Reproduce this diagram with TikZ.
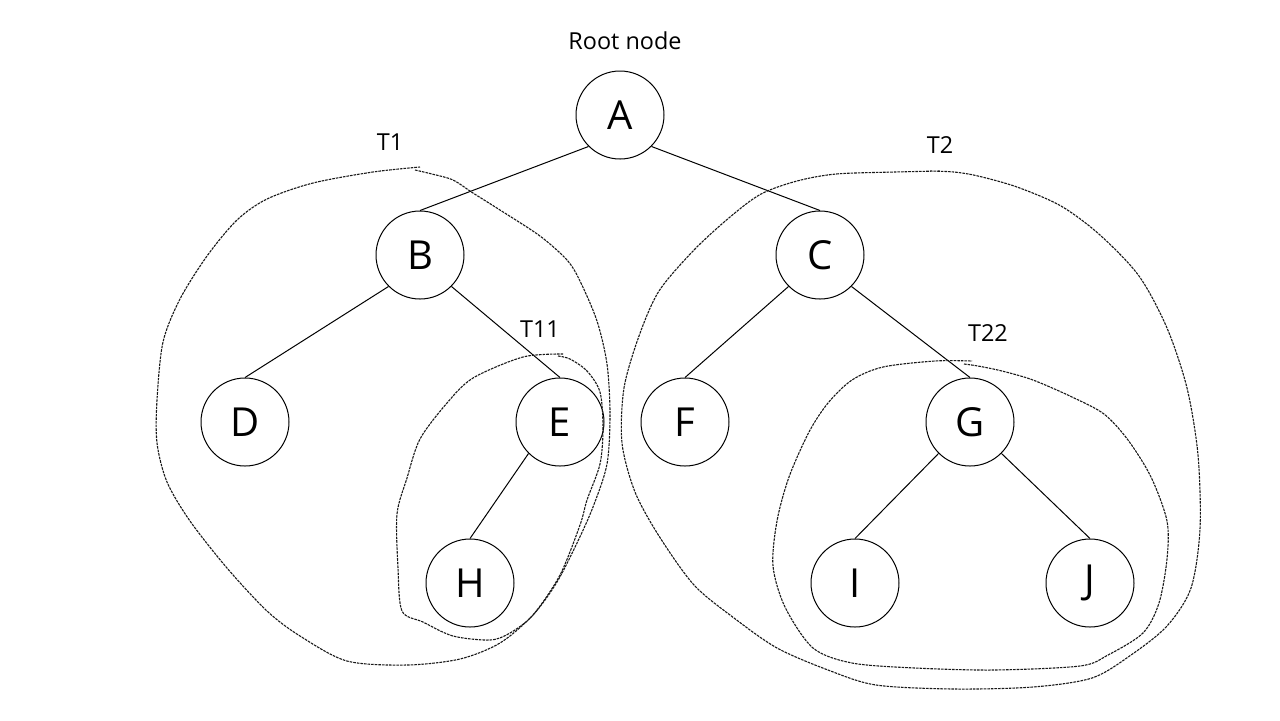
\documentclass[tikz,border=0pt]{standalone}
\usepackage{fontspec}
\setmainfont{Open Sans}
\begin{document}
\begin{tikzpicture}[x=0.5pt,y=-0.5pt]
  \tikzstyle{vertex}=[circle,draw,line width=0.5pt,minimum size=44pt,inner sep=0pt,font=\fontsize{20}{24}\selectfont]
  \tikzstyle{lbl}=[font=\fontsize{11.7}{14}\selectfont]
  \tikzstyle{edge}=[line width=0.5pt]
  \tikzstyle{subtree}=[line width=0.55pt,draw=black!90,dash pattern=on 1.3pt off 0.5pt]
  \useasboundingbox (0,0) rectangle (1280,720);
  % nodes
  \node[vertex] (A) at (620,115) {A};
  \node[vertex] (B) at (420,255) {B};
  \node[vertex] (C) at (820,255) {C};
  \node[vertex] (D) at (245,422) {D};
  \node[vertex] (E) at (560,422) {E};
  \node[vertex] (F) at (685,422) {F};
  \node[vertex] (G) at (970,422) {G};
  \node[vertex] (H) at (470,583) {H};
  \node[vertex] (I) at (855,583) {I};
  \node[vertex] (J) at (1090,583) {J};
  % edges
  \draw[edge] (A.south west) -- (B.north);
  \draw[edge] (A.south east) -- (C.north);
  \draw[edge] (B.south west) -- (D.north);
  \draw[edge] (B.south east) -- (E.north);
  \draw[edge] (C.south west) -- (F.north);
  \draw[edge] (C.south east) -- (G.north);
  \draw[edge] (E.south west) -- (H.north);
  \draw[edge] (G.south west) -- (I.north);
  \draw[edge] (G.south east) -- (J.north);
  % subtrees
  \draw[subtree] plot[smooth] coordinates {(415,170) (432,174) (453,180) (473,193) (500,210) (540,236) (567,260) (580,281) (597,321) (607,364) (610,414) (607,464) (593,507) (577,543) (557,582) (533,615) (500,643) (460,659) (407,665) (347,661) (300,636) (267,611) (227,568) (190,521) (167,482) (157,443) (157,400) (163,342) (180,299) (207,256) (237,220) (267,199) (313,183) (373,172) (420,167)};
  \draw[subtree] plot[smooth] coordinates {(558,356) (570,359) (587,371) (600,392) (603,428) (600,464) (587,500) (580,525) (560,575) (533,615) (510,633) (490,640) (453,636) (423,622) (402,611) (398,568) (397,514) (407,478) (420,439) (447,403) (473,378) (523,357) (563,354)};
  \draw[subtree] plot[smooth] coordinates {(930,171) (954,172) (978,176) (1017,187) (1061,206) (1100,235) (1139,276) (1167,328) (1187,388) (1198,455) (1200,529) (1191,588) (1167,626) (1131,655) (1092,678) (1033,687) (954,689) (876,685) (828,670) (777,648) (734,618) (694,585) (659,536) (635,492) (622,443) (624,388) (639,336) (659,291) (694,250) (730,217) (761,194) (797,181) (836,174) (895,172) (940,171)};
  \draw[subtree] plot[smooth] coordinates {(964,364) (978,366) (1002,371) (1033,380) (1072,397) (1104,414) (1128,440) (1151,477) (1167,521) (1167,559) (1159,603) (1143,633) (1108,655) (1080,666) (994,670) (915,668) (852,663) (813,648) (785,607) (773,566) (777,521) (789,477) (809,432) (828,403) (852,380) (883,367) (935,361) (972,361)};
  % labels
  \node[lbl] (root) at (625,41) {Root node};
  \node[lbl] (t1) at (390,142) {T1};
  \node[lbl] (t2) at (940,145) {T2};
  \node[lbl] (t11) at (540,329) {T11};
  \node[lbl] (t22) at (988,333) {T22};
\end{tikzpicture}
\end{document}
